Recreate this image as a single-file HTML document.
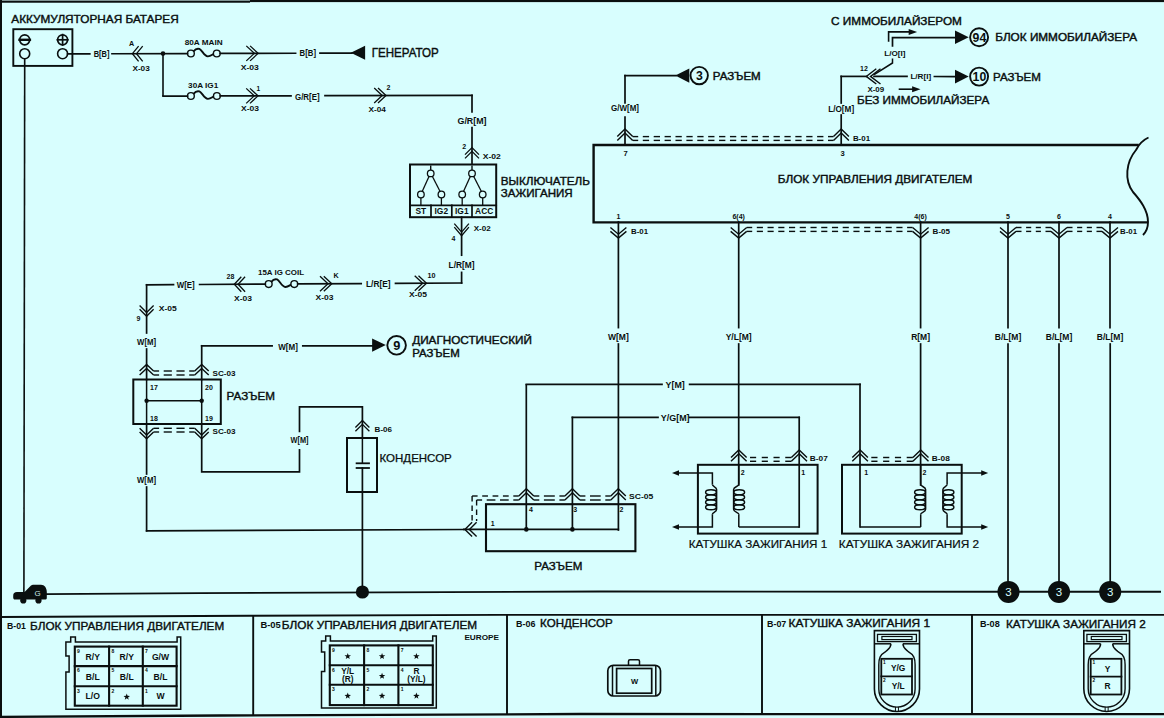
<!DOCTYPE html>
<html><head><meta charset="utf-8"><style>
html,body{margin:0;padding:0;background:#d8fefe;}
svg{display:block;}
text{font-family:"Liberation Sans", sans-serif;}
</style></head><body>
<svg width="1164" height="718" viewBox="0 0 1164 718">
<rect x="0" y="0" width="1164" height="718" fill="#d8fefe"/>
<g stroke="#0a0f0f" stroke-linecap="butt" fill="none">
<rect x="0" y="0" width="1164" height="2.1" fill="#0a0f0f" stroke="none"/>
<rect x="0" y="0" width="250" height="0.9" fill="#8fa5a5" stroke="none"/>
<rect x="0" y="2" width="250" height="0.7" fill="#0a0f0f" stroke="none"/>
<rect x="0" y="0" width="2" height="718" fill="#0a0f0f" stroke="none"/>
<polyline points="0,716.9 220,715.5 580,714 1164,714.2" stroke-width="2.3" fill="none"/>
<polyline points="0,616.9 250,615.75 500,614.85 1164,614.85" stroke-width="1.95" fill="none"/>
<rect x="252.25" y="615" width="1.9" height="100" fill="#0a0f0f" stroke="none"/>
<rect x="506.05" y="615" width="1.9" height="100" fill="#0a0f0f" stroke="none"/>
<rect x="761.05" y="615" width="1.9" height="100" fill="#0a0f0f" stroke="none"/>
<rect x="971.05" y="615" width="1.9" height="100" fill="#0a0f0f" stroke="none"/>
<text x="11.3" y="22.8" font-size="10.9" textLength="167.4" lengthAdjust="spacingAndGlyphs" fill="#0a0f0f" stroke="#0a0f0f" stroke-width="0.4">АККУМУЛЯТОРНАЯ БАТАРЕЯ</text>
<rect x="13.3" y="29.2" width="59.1" height="36.7" stroke-width="1.9" fill="none"/>
<circle cx="24.7" cy="39.8" r="5" stroke-width="1.7" fill="none"/>
<line x1="19.5" y1="39.8" x2="29.9" y2="39.8" stroke-width="2.4" stroke-linecap="square"/>
<circle cx="62.6" cy="39.8" r="5" stroke-width="1.7" fill="none"/>
<line x1="57.4" y1="39.8" x2="67.8" y2="39.8" stroke-width="1.7" stroke-linecap="square"/>
<line x1="62.6" y1="34.6" x2="62.6" y2="45" stroke-width="1.7" stroke-linecap="square"/>
<circle cx="24.7" cy="53.7" r="5" stroke-width="1.6" fill="none"/>
<circle cx="62.6" cy="53.7" r="5" stroke-width="1.6" fill="none"/>
<line x1="24.7" y1="58.7" x2="23.9" y2="592.5" stroke-width="1.6"/>
<line x1="67.6" y1="53.88" x2="89.8" y2="53.82" stroke-width="1.7" stroke-linecap="square"/>
<text x="93.7" y="57.01" font-size="8.5" font-weight="bold" textLength="15.8" lengthAdjust="spacingAndGlyphs" fill="#0a0f0f" stroke="none">B[B]</text>
<line x1="112" y1="53.76" x2="187.5" y2="53.56" stroke-width="1.7" stroke-linecap="square"/>
<polyline points="138.6,46.11 132.4,53.71 138.6,61.31" stroke-width="1.3" fill="none"/>
<polyline points="142.7,46.11 136.5,53.71 142.7,61.31" stroke-width="1.3" fill="none"/>
<text x="129.1" y="46.4" font-size="7.2" font-weight="bold" fill="#0a0f0f" stroke="none">A</text>
<text x="132.4" y="70.6" font-size="7.4" font-weight="bold" textLength="17.4" lengthAdjust="spacingAndGlyphs" fill="#0a0f0f" stroke="none">X-03</text>
<circle cx="163" cy="53.62" r="2.3" fill="#0a0f0f" stroke="none"/>
<circle cx="190.9" cy="53.51" r="3.4" stroke-width="1.4" fill="none"/>
<circle cx="216.8" cy="53.51" r="3.4" stroke-width="1.4" fill="none"/>
<path d="M193.53,51.31 C195.45,48.91 197.78,48.41 199.4,48.91 C202.03,49.91 204.05,56.11 207.69,56.41 C210.12,56.61 212.15,54.71 213.46,54.11" stroke-width="1.9" fill="none"/>
<text x="184.7" y="44.7" font-size="7.2" font-weight="bold" textLength="37.9" lengthAdjust="spacingAndGlyphs" fill="#0a0f0f" stroke="none">80A MAIN</text>
<line x1="220.2" y1="53.47" x2="295.6" y2="53.27" stroke-width="1.7" stroke-linecap="square"/>
<polyline points="250.1,45.87 258.1,53.37 250.1,60.87" stroke-width="1.3" fill="none"/>
<polyline points="246.3,45.87 254.3,53.37 246.3,60.87" stroke-width="1.3" fill="none"/>
<text x="240.7" y="69.8" font-size="7.4" font-weight="bold" textLength="18.2" lengthAdjust="spacingAndGlyphs" fill="#0a0f0f" stroke="none">X-03</text>
<text x="299.6" y="56.25" font-size="8.5" font-weight="bold" textLength="16.4" lengthAdjust="spacingAndGlyphs" fill="#0a0f0f" stroke="none">B[B]</text>
<line x1="320" y1="53.2" x2="352" y2="53.11" stroke-width="1.7" stroke-linecap="square"/>
<polygon points="350.8,52.8 365.1,45.8 365.1,59.8" fill="#0a0f0f" stroke="none"/>
<text x="371.7" y="56.6" font-size="12.4" textLength="67.1" lengthAdjust="spacingAndGlyphs" fill="#0a0f0f" stroke="#0a0f0f" stroke-width="0.4">ГЕНЕРАТОР</text>
<line x1="163" y1="53.62" x2="163" y2="96.1" stroke-width="1.6"/>
<line x1="163" y1="96.1" x2="187.5" y2="96.04" stroke-width="1.7" stroke-linecap="square"/>
<circle cx="190.9" cy="96" r="3.4" stroke-width="1.4" fill="none"/>
<circle cx="216.9" cy="96" r="3.4" stroke-width="1.4" fill="none"/>
<path d="M193.54,93.8 C195.47,91.4 197.81,90.9 199.43,91.4 C202.07,92.4 204.1,98.6 207.76,98.9 C210.2,99.1 212.23,97.2 213.55,96.6" stroke-width="1.9" fill="none"/>
<text x="188.1" y="87.8" font-size="7.2" font-weight="bold" textLength="30.2" lengthAdjust="spacingAndGlyphs" fill="#0a0f0f" stroke="none">30A IG1</text>
<line x1="220.3" y1="95.96" x2="291" y2="95.79" stroke-width="1.7" stroke-linecap="square"/>
<polyline points="250,88.37 258,95.87 250,103.37" stroke-width="1.3" fill="none"/>
<polyline points="246.2,88.37 254.2,95.87 246.2,103.37" stroke-width="1.3" fill="none"/>
<text x="256.6" y="91" font-size="6.5" font-weight="bold" fill="#0a0f0f" stroke="none">1</text>
<text x="241" y="111.4" font-size="7.4" font-weight="bold" textLength="18" lengthAdjust="spacingAndGlyphs" fill="#0a0f0f" stroke="none">X-03</text>
<text x="295" y="99.6" font-size="8.5" font-weight="bold" textLength="24.6" lengthAdjust="spacingAndGlyphs" fill="#0a0f0f" stroke="none">G/R[E]</text>
<line x1="325" y1="95.71" x2="472" y2="95.36" stroke-width="1.7" stroke-linecap="square"/>
<polyline points="378,88.06 386,95.56 378,103.06" stroke-width="1.3" fill="none"/>
<polyline points="374.2,88.06 382.2,95.56 374.2,103.06" stroke-width="1.3" fill="none"/>
<text x="386.5" y="89.6" font-size="7" font-weight="bold" fill="#0a0f0f" stroke="none">2</text>
<text x="368.5" y="112.2" font-size="7.4" font-weight="bold" textLength="17.4" lengthAdjust="spacingAndGlyphs" fill="#0a0f0f" stroke="none">X-04</text>
<line x1="472" y1="95.3" x2="472" y2="112" stroke-width="1.7" stroke-linecap="square"/>
<text x="472" y="124" font-size="8.5" font-weight="bold" text-anchor="middle" textLength="29" lengthAdjust="spacingAndGlyphs" fill="#0a0f0f" stroke="none">G/R[M]</text>
<line x1="472" y1="127.5" x2="472" y2="164" stroke-width="1.7" stroke-linecap="square"/>
<polyline points="465,154.6 472,147.6 479,154.6" stroke-width="1.3" fill="none"/>
<polyline points="465,158.4 472,151.4 479,158.4" stroke-width="1.3" fill="none"/>
<text x="462.3" y="148.8" font-size="7" font-weight="bold" fill="#0a0f0f" stroke="none">2</text>
<text x="482.7" y="159" font-size="7.4" font-weight="bold" textLength="18.1" lengthAdjust="spacingAndGlyphs" fill="#0a0f0f" stroke="none">X-02</text>
<rect x="410" y="164.5" width="86.2" height="52.7" stroke-width="2" fill="none"/>
<line x1="410" y1="205.3" x2="496.2" y2="205.3" stroke-width="1.7" stroke-linecap="square"/>
<line x1="431" y1="205.3" x2="431" y2="217" stroke-width="1.7" stroke-linecap="square"/>
<line x1="451.8" y1="205.3" x2="451.8" y2="217" stroke-width="1.7" stroke-linecap="square"/>
<line x1="472" y1="205.3" x2="472" y2="217" stroke-width="1.7" stroke-linecap="square"/>
<text x="420.8" y="213.6" font-size="8.4" font-weight="bold" text-anchor="middle" fill="#0a0f0f" stroke="none">ST</text>
<text x="441.3" y="213.6" font-size="8.4" font-weight="bold" text-anchor="middle" fill="#0a0f0f" stroke="none">IG2</text>
<text x="461.8" y="213.6" font-size="8.4" font-weight="bold" text-anchor="middle" fill="#0a0f0f" stroke="none">IG1</text>
<text x="484.2" y="213.6" font-size="8.4" font-weight="bold" text-anchor="middle" fill="#0a0f0f" stroke="none">ACC</text>
<line x1="430.7" y1="165.5" x2="430.7" y2="170" stroke-width="1.4"/>
<circle cx="430.7" cy="173.4" r="3.3" stroke-width="1.3" fill="none"/>
<circle cx="420.9" cy="194.5" r="3.3" stroke-width="1.3" fill="none"/>
<line x1="420.9" y1="197.8" x2="420.9" y2="205" stroke-width="1.3"/>
<circle cx="441.4" cy="194.5" r="3.3" stroke-width="1.3" fill="none"/>
<line x1="441.4" y1="197.8" x2="441.4" y2="205" stroke-width="1.3"/>
<line x1="429.1" y1="176.3" x2="422.2" y2="191.5" stroke-width="1.3"/>
<line x1="432.3" y1="176.3" x2="440.1" y2="191.5" stroke-width="1.3"/>
<line x1="472" y1="165.5" x2="472" y2="170" stroke-width="1.4"/>
<circle cx="472" cy="173.4" r="3.3" stroke-width="1.3" fill="none"/>
<circle cx="462.2" cy="194.5" r="3.3" stroke-width="1.3" fill="none"/>
<line x1="462.2" y1="197.8" x2="462.2" y2="205" stroke-width="1.3"/>
<circle cx="482.7" cy="194.5" r="3.3" stroke-width="1.3" fill="none"/>
<line x1="482.7" y1="197.8" x2="482.7" y2="205" stroke-width="1.3"/>
<line x1="470.4" y1="176.3" x2="463.5" y2="191.5" stroke-width="1.3"/>
<line x1="473.6" y1="176.3" x2="481.4" y2="191.5" stroke-width="1.3"/>
<text x="500.8" y="185" font-size="11" textLength="89.2" lengthAdjust="spacingAndGlyphs" fill="#0a0f0f" stroke="#0a0f0f" stroke-width="0.4">ВЫКЛЮЧАТЕЛЬ</text>
<text x="500.8" y="196.6" font-size="10.8" textLength="71.9" lengthAdjust="spacingAndGlyphs" fill="#0a0f0f" stroke="#0a0f0f" stroke-width="0.4">ЗАЖИГАНИЯ</text>
<line x1="461.6" y1="217" x2="461.6" y2="255.2" stroke-width="1.7" stroke-linecap="square"/>
<polyline points="454.3,227.2 461.6,235.7 468.9,227.2" stroke-width="1.3" fill="none"/>
<polyline points="454.3,223.6 461.6,232.1 468.9,223.6" stroke-width="1.3" fill="none"/>
<text x="473.7" y="231" font-size="7.4" font-weight="bold" textLength="17" lengthAdjust="spacingAndGlyphs" fill="#0a0f0f" stroke="none">X-02</text>
<text x="451.5" y="240.5" font-size="7" font-weight="bold" fill="#0a0f0f" stroke="none">4</text>
<text x="461.6" y="267.5" font-size="8.5" font-weight="bold" text-anchor="middle" textLength="26" lengthAdjust="spacingAndGlyphs" fill="#0a0f0f" stroke="none">L/R[M]</text>
<line x1="461.6" y1="272.4" x2="461.6" y2="283" stroke-width="1.7" stroke-linecap="square"/>
<line x1="461.6" y1="283.01" x2="395.5" y2="283.39" stroke-width="1.7" stroke-linecap="square"/>
<polyline points="418.5,275.71 426.5,283.21 418.5,290.71" stroke-width="1.3" fill="none"/>
<polyline points="414.7,275.71 422.7,283.21 414.7,290.71" stroke-width="1.3" fill="none"/>
<text x="427.5" y="277.71" font-size="7.2" font-weight="bold" fill="#0a0f0f" stroke="none">10</text>
<text x="409" y="296.81" font-size="7.4" font-weight="bold" textLength="18" lengthAdjust="spacingAndGlyphs" fill="#0a0f0f" stroke="none">X-05</text>
<text x="366" y="287.15" font-size="8.5" font-weight="bold" textLength="24.6" lengthAdjust="spacingAndGlyphs" fill="#0a0f0f" stroke="none">L/R[E]</text>
<line x1="361.2" y1="283.58" x2="297.7" y2="283.94" stroke-width="1.7" stroke-linecap="square"/>
<polyline points="323.8,276.25 331.8,283.75 323.8,291.25" stroke-width="1.3" fill="none"/>
<polyline points="320,276.25 328,283.75 320,291.25" stroke-width="1.3" fill="none"/>
<text x="333.5" y="278.24" font-size="7.2" font-weight="bold" fill="#0a0f0f" stroke="none">K</text>
<text x="315.5" y="300.34" font-size="7.4" font-weight="bold" textLength="18" lengthAdjust="spacingAndGlyphs" fill="#0a0f0f" stroke="none">X-03</text>
<circle cx="268.7" cy="284.04" r="3.4" stroke-width="1.4" fill="none"/>
<circle cx="294.3" cy="284.04" r="3.4" stroke-width="1.4" fill="none"/>
<path d="M271.3,281.84 C273.2,279.44 275.5,278.94 277.1,279.44 C279.7,280.44 281.7,286.64 285.3,286.94 C287.7,287.14 289.7,285.24 291,284.64" stroke-width="1.9" fill="none"/>
<text x="258" y="274.67" font-size="7.2" font-weight="bold" textLength="46" lengthAdjust="spacingAndGlyphs" fill="#0a0f0f" stroke="none">15A IG COIL</text>
<line x1="265.3" y1="284.13" x2="199.6" y2="284.5" stroke-width="1.7" stroke-linecap="square"/>
<polyline points="241.3,276.8 234.3,284.3 241.3,291.8" stroke-width="1.3" fill="none"/>
<polyline points="245.1,276.8 238.1,284.3 245.1,291.8" stroke-width="1.3" fill="none"/>
<text x="226.6" y="279.05" font-size="7" font-weight="bold" fill="#0a0f0f" stroke="none">28</text>
<text x="234" y="301.31" font-size="7.4" font-weight="bold" textLength="18" lengthAdjust="spacingAndGlyphs" fill="#0a0f0f" stroke="none">X-03</text>
<text x="176.7" y="288.23" font-size="8.5" font-weight="bold" textLength="18" lengthAdjust="spacingAndGlyphs" fill="#0a0f0f" stroke="none">W[E]</text>
<line x1="173.5" y1="284.65" x2="146.6" y2="284.8" stroke-width="1.7" stroke-linecap="square"/>
<line x1="146.6" y1="284.8" x2="146.6" y2="333" stroke-width="1.7" stroke-linecap="square"/>
<polyline points="139.6,309.3 146.6,316.3 153.6,309.3" stroke-width="1.3" fill="none"/>
<polyline points="139.6,305.5 146.6,312.5 153.6,305.5" stroke-width="1.3" fill="none"/>
<text x="158.8" y="310.7" font-size="7.4" font-weight="bold" textLength="18" lengthAdjust="spacingAndGlyphs" fill="#0a0f0f" stroke="none">X-05</text>
<text x="136.5" y="320.5" font-size="7" font-weight="bold" fill="#0a0f0f" stroke="none">9</text>
<text x="146.6" y="344.5" font-size="8.5" font-weight="bold" text-anchor="middle" textLength="19" lengthAdjust="spacingAndGlyphs" fill="#0a0f0f" stroke="none">W[M]</text>
<line x1="146.6" y1="349" x2="146.6" y2="366" stroke-width="1.7" stroke-linecap="square"/>
<polyline points="139.6,371 146.6,364.5 153.6,371" stroke-width="1.4" fill="none"/>
<polyline points="139.6,375 146.6,368.5 153.6,375" stroke-width="1.4" fill="none"/>
<polyline points="194.7,371 201.7,364.5 208.7,371" stroke-width="1.4" fill="none"/>
<polyline points="194.7,375 201.7,368.5 208.7,375" stroke-width="1.4" fill="none"/>
<line x1="153.6" y1="371" x2="159.1" y2="371" stroke-width="1.4"/>
<line x1="189.2" y1="371" x2="194.7" y2="371" stroke-width="1.4"/>
<line x1="163.7" y1="371" x2="171.85" y2="371" stroke-width="1.4"/>
<line x1="176.45" y1="371" x2="184.6" y2="371" stroke-width="1.4"/>
<line x1="153.6" y1="375" x2="159.1" y2="375" stroke-width="1.4"/>
<line x1="189.2" y1="375" x2="194.7" y2="375" stroke-width="1.4"/>
<line x1="163.7" y1="375" x2="171.85" y2="375" stroke-width="1.4"/>
<line x1="176.45" y1="375" x2="184.6" y2="375" stroke-width="1.4"/>
<rect x="133.3" y="379.5" width="87.5" height="44.5" stroke-width="2" fill="none"/>
<line x1="146.6" y1="366" x2="146.6" y2="379.5" stroke-width="1.7" stroke-linecap="square"/>
<text x="150" y="389.5" font-size="7" font-weight="bold" fill="#0a0f0f" stroke="none">17</text>
<text x="205" y="389.5" font-size="7" font-weight="bold" fill="#0a0f0f" stroke="none">20</text>
<text x="150" y="420.5" font-size="7" font-weight="bold" fill="#0a0f0f" stroke="none">18</text>
<text x="205" y="420.5" font-size="7" font-weight="bold" fill="#0a0f0f" stroke="none">19</text>
<line x1="146.6" y1="379.5" x2="146.6" y2="424" stroke-width="1.5"/>
<line x1="201.7" y1="379.5" x2="201.7" y2="424" stroke-width="1.5"/>
<line x1="146.6" y1="400.7" x2="201.7" y2="400.7" stroke-width="1.5"/>
<circle cx="146.6" cy="400.7" r="2.2" fill="#0a0f0f" stroke="none"/>
<circle cx="201.7" cy="400.7" r="2.2" fill="#0a0f0f" stroke="none"/>
<text x="212.6" y="376" font-size="8" font-weight="bold" textLength="23" lengthAdjust="spacingAndGlyphs" fill="#0a0f0f" stroke="none">SC-03</text>
<text x="226.6" y="400.3" font-size="11.2" textLength="48.4" lengthAdjust="spacingAndGlyphs" fill="#0a0f0f" stroke="#0a0f0f" stroke-width="0.4">РАЗЪЕМ</text>
<polyline points="139.6,428.3 146.6,435.1 153.6,428.3" stroke-width="1.4" fill="none"/>
<polyline points="139.6,432 146.6,438.8 153.6,432" stroke-width="1.4" fill="none"/>
<polyline points="194.7,428.3 201.7,435.1 208.7,428.3" stroke-width="1.4" fill="none"/>
<polyline points="194.7,432 201.7,438.8 208.7,432" stroke-width="1.4" fill="none"/>
<line x1="153.6" y1="428.3" x2="159.1" y2="428.3" stroke-width="1.4"/>
<line x1="189.2" y1="428.3" x2="194.7" y2="428.3" stroke-width="1.4"/>
<line x1="163.7" y1="428.3" x2="171.85" y2="428.3" stroke-width="1.4"/>
<line x1="176.45" y1="428.3" x2="184.6" y2="428.3" stroke-width="1.4"/>
<line x1="153.6" y1="432" x2="159.1" y2="432" stroke-width="1.4"/>
<line x1="189.2" y1="432" x2="194.7" y2="432" stroke-width="1.4"/>
<line x1="163.7" y1="432" x2="171.85" y2="432" stroke-width="1.4"/>
<line x1="176.45" y1="432" x2="184.6" y2="432" stroke-width="1.4"/>
<text x="212.6" y="433.5" font-size="8" font-weight="bold" textLength="23" lengthAdjust="spacingAndGlyphs" fill="#0a0f0f" stroke="none">SC-03</text>
<line x1="146.6" y1="424" x2="146.6" y2="474" stroke-width="1.7" stroke-linecap="square"/>
<text x="146.5" y="483" font-size="8.5" font-weight="bold" text-anchor="middle" textLength="19" lengthAdjust="spacingAndGlyphs" fill="#0a0f0f" stroke="none">W[M]</text>
<line x1="146.6" y1="487" x2="146.6" y2="530.8" stroke-width="1.7" stroke-linecap="square"/>
<line x1="146.6" y1="530.8" x2="463.8" y2="529.5" stroke-width="1.7" stroke-linecap="square"/>
<polyline points="201.7,424 201.7,471.9 299.5,471.9 299.5,449" stroke-width="1.7" fill="none"/>
<text x="299.5" y="443.4" font-size="8.5" font-weight="bold" text-anchor="middle" textLength="18" lengthAdjust="spacingAndGlyphs" fill="#0a0f0f" stroke="none">W[M]</text>
<polyline points="299.5,432.3 299.5,406.8 362.4,406.8 362.4,438" stroke-width="1.7" fill="none"/>
<line x1="201.7" y1="345.8" x2="201.7" y2="379.5" stroke-width="1.7" stroke-linecap="square"/>
<line x1="201.7" y1="345.8" x2="272.1" y2="345.8" stroke-width="1.7" stroke-linecap="square"/>
<text x="278.3" y="349.6" font-size="8.5" font-weight="bold" textLength="19.6" lengthAdjust="spacingAndGlyphs" fill="#0a0f0f" stroke="none">W[M]</text>
<line x1="302.8" y1="345.8" x2="375" y2="345.8" stroke-width="1.7" stroke-linecap="square"/>
<polygon points="385.8,345.1 372.1,338.4 372.1,351.8" fill="#0a0f0f" stroke="none"/>
<circle cx="396.6" cy="345.3" r="9.3" stroke-width="1.9" fill="none"/>
<text x="396.9" y="350" font-size="12.8" font-weight="bold" text-anchor="middle" fill="#0a0f0f" stroke="none">9</text>
<text x="412.2" y="344.2" font-size="10.4" textLength="119.7" lengthAdjust="spacingAndGlyphs" fill="#0a0f0f" stroke="#0a0f0f" stroke-width="0.4">ДИАГНОСТИЧЕСКИЙ</text>
<text x="412.2" y="357.3" font-size="10.4" textLength="47.5" lengthAdjust="spacingAndGlyphs" fill="#0a0f0f" stroke="#0a0f0f" stroke-width="0.4">РАЗЪЕМ</text>
<polyline points="355.4,427.5 362.4,420.5 369.4,427.5" stroke-width="1.3" fill="none"/>
<polyline points="355.4,431.3 362.4,424.3 369.4,431.3" stroke-width="1.3" fill="none"/>
<text x="374.6" y="431.5" font-size="7.4" font-weight="bold" textLength="17.4" lengthAdjust="spacingAndGlyphs" fill="#0a0f0f" stroke="none">B-06</text>
<rect x="347" y="438" width="30" height="54" stroke-width="2" fill="none"/>
<line x1="362.4" y1="438" x2="362.4" y2="463.3" stroke-width="1.5"/>
<line x1="356.6" y1="463.3" x2="369" y2="463.3" stroke-width="1.8" stroke-linecap="square"/>
<line x1="356.6" y1="468" x2="369" y2="468" stroke-width="1.8" stroke-linecap="square"/>
<line x1="362.4" y1="468" x2="362.4" y2="592" stroke-width="1.7" stroke-linecap="square"/>
<text x="379.5" y="461.5" font-size="10.6" textLength="72.3" lengthAdjust="spacingAndGlyphs" fill="#0a0f0f" stroke="#0a0f0f" stroke-width="0.25">КОНДЕНСОР</text>
<circle cx="362.4" cy="592" r="6.6" fill="#0a0f0f" stroke="none"/>
<polyline points="46,594.1 200,593.1 600,591.5 1161,591.8" stroke-width="1.9" fill="none"/>
<path d="M13.2,596 C13.2,593 14.5,592 17,592 L24.6,592 L31,585.6 C31.8,584.9 32.5,584.8 33.5,584.8 L41,584.8 C44.5,584.8 46.8,588 46.8,592 L46.8,598 C46.8,599 46,599.6 45,599.6 L15,599.6 C13.8,599.6 13.2,598.8 13.2,597.5 Z" fill="#0a0f0f" stroke="none"/>
<circle cx="23.3" cy="600.4" r="3.1" fill="#0a0f0f" stroke="none"/>
<circle cx="38.5" cy="600.4" r="3.1" fill="#0a0f0f" stroke="none"/>
<text x="37.6" y="595.6" font-size="8" font-weight="normal" text-anchor="middle" fill="#c8e8e8" stroke="none">G</text>
<circle cx="1008.5" cy="591.9" r="11" fill="#0a0f0f" stroke="none"/>
<text x="1008.5" y="596.2" font-size="11.5" font-weight="normal" text-anchor="middle" fill="#d8fefe" stroke="none">3</text>
<circle cx="1059" cy="591.9" r="11" fill="#0a0f0f" stroke="none"/>
<text x="1059" y="596.2" font-size="11.5" font-weight="normal" text-anchor="middle" fill="#d8fefe" stroke="none">3</text>
<circle cx="1110.2" cy="591.9" r="11" fill="#0a0f0f" stroke="none"/>
<text x="1110.2" y="596.2" font-size="11.5" font-weight="normal" text-anchor="middle" fill="#d8fefe" stroke="none">3</text>
<path d="M1138.8,145 L593.6,145 L593.6,222.4 L1147,222.4" stroke-width="2.4" fill="none"/>
<path d="M1148.5,137.5 C1143,140 1139,144 1136,150 C1126,162 1124,180 1133,192 C1140,200 1148,210 1148,222 C1148,228 1146,232 1143,235" stroke-width="1.9" fill="none"/>
<text x="777.8" y="183" font-size="10.6" textLength="194.6" lengthAdjust="spacingAndGlyphs" fill="#0a0f0f" stroke="#0a0f0f" stroke-width="0.4">БЛОК УПРАВЛЕНИЯ ДВИГАТЕЛЕМ</text>
<line x1="625" y1="75.6" x2="625" y2="103" stroke-width="1.7" stroke-linecap="square"/>
<line x1="625" y1="117" x2="625" y2="145" stroke-width="1.7" stroke-linecap="square"/>
<text x="625" y="110.5" font-size="8.5" font-weight="bold" text-anchor="middle" textLength="28" lengthAdjust="spacingAndGlyphs" fill="#0a0f0f" stroke="none">G/W[M]</text>
<line x1="625" y1="75.6" x2="676" y2="75.6" stroke-width="1.7" stroke-linecap="square"/>
<polygon points="675.3,75.6 689.3,68.5 689.3,82.7" fill="#0a0f0f" stroke="none"/>
<circle cx="699.2" cy="75.6" r="8.7" stroke-width="1.9" fill="none"/>
<text x="699.5" y="80.3" font-size="12.3" font-weight="bold" text-anchor="middle" fill="#0a0f0f" stroke="none">3</text>
<text x="712.8" y="80.1" font-size="10.2" textLength="47.9" lengthAdjust="spacingAndGlyphs" fill="#0a0f0f" stroke="#0a0f0f" stroke-width="0.4">РАЗЪЕМ</text>
<text x="625.5" y="155.5" font-size="7.6" font-weight="bold" text-anchor="middle" fill="#0a0f0f" stroke="none">7</text>
<text x="842.7" y="155.9" font-size="7.6" font-weight="bold" text-anchor="middle" fill="#0a0f0f" stroke="none">3</text>
<polyline points="617.3,136.6 625,129.1 632.7,136.6" stroke-width="1.4" fill="none"/>
<polyline points="617.3,140.4 625,132.9 632.7,140.4" stroke-width="1.4" fill="none"/>
<polyline points="833.5,136.6 841.2,129.1 848.9,136.6" stroke-width="1.4" fill="none"/>
<polyline points="833.5,140.4 841.2,132.9 848.9,140.4" stroke-width="1.4" fill="none"/>
<line x1="632.7" y1="136.6" x2="638.2" y2="136.6" stroke-width="1.4"/>
<line x1="828" y1="136.6" x2="833.5" y2="136.6" stroke-width="1.4"/>
<line x1="642.8" y1="136.6" x2="649.09" y2="136.6" stroke-width="1.4"/>
<line x1="653.69" y1="136.6" x2="659.99" y2="136.6" stroke-width="1.4"/>
<line x1="664.59" y1="136.6" x2="670.88" y2="136.6" stroke-width="1.4"/>
<line x1="675.48" y1="136.6" x2="681.78" y2="136.6" stroke-width="1.4"/>
<line x1="686.38" y1="136.6" x2="692.67" y2="136.6" stroke-width="1.4"/>
<line x1="697.27" y1="136.6" x2="703.56" y2="136.6" stroke-width="1.4"/>
<line x1="708.16" y1="136.6" x2="714.46" y2="136.6" stroke-width="1.4"/>
<line x1="719.06" y1="136.6" x2="725.35" y2="136.6" stroke-width="1.4"/>
<line x1="729.95" y1="136.6" x2="736.25" y2="136.6" stroke-width="1.4"/>
<line x1="740.85" y1="136.6" x2="747.14" y2="136.6" stroke-width="1.4"/>
<line x1="751.74" y1="136.6" x2="758.04" y2="136.6" stroke-width="1.4"/>
<line x1="762.64" y1="136.6" x2="768.93" y2="136.6" stroke-width="1.4"/>
<line x1="773.53" y1="136.6" x2="779.82" y2="136.6" stroke-width="1.4"/>
<line x1="784.42" y1="136.6" x2="790.72" y2="136.6" stroke-width="1.4"/>
<line x1="795.32" y1="136.6" x2="801.61" y2="136.6" stroke-width="1.4"/>
<line x1="806.21" y1="136.6" x2="812.51" y2="136.6" stroke-width="1.4"/>
<line x1="817.11" y1="136.6" x2="823.4" y2="136.6" stroke-width="1.4"/>
<line x1="632.7" y1="140.4" x2="638.2" y2="140.4" stroke-width="1.4"/>
<line x1="828" y1="140.4" x2="833.5" y2="140.4" stroke-width="1.4"/>
<line x1="642.8" y1="140.4" x2="649.09" y2="140.4" stroke-width="1.4"/>
<line x1="653.69" y1="140.4" x2="659.99" y2="140.4" stroke-width="1.4"/>
<line x1="664.59" y1="140.4" x2="670.88" y2="140.4" stroke-width="1.4"/>
<line x1="675.48" y1="140.4" x2="681.78" y2="140.4" stroke-width="1.4"/>
<line x1="686.38" y1="140.4" x2="692.67" y2="140.4" stroke-width="1.4"/>
<line x1="697.27" y1="140.4" x2="703.56" y2="140.4" stroke-width="1.4"/>
<line x1="708.16" y1="140.4" x2="714.46" y2="140.4" stroke-width="1.4"/>
<line x1="719.06" y1="140.4" x2="725.35" y2="140.4" stroke-width="1.4"/>
<line x1="729.95" y1="140.4" x2="736.25" y2="140.4" stroke-width="1.4"/>
<line x1="740.85" y1="140.4" x2="747.14" y2="140.4" stroke-width="1.4"/>
<line x1="751.74" y1="140.4" x2="758.04" y2="140.4" stroke-width="1.4"/>
<line x1="762.64" y1="140.4" x2="768.93" y2="140.4" stroke-width="1.4"/>
<line x1="773.53" y1="140.4" x2="779.82" y2="140.4" stroke-width="1.4"/>
<line x1="784.42" y1="140.4" x2="790.72" y2="140.4" stroke-width="1.4"/>
<line x1="795.32" y1="140.4" x2="801.61" y2="140.4" stroke-width="1.4"/>
<line x1="806.21" y1="140.4" x2="812.51" y2="140.4" stroke-width="1.4"/>
<line x1="817.11" y1="140.4" x2="823.4" y2="140.4" stroke-width="1.4"/>
<text x="852.9" y="140.8" font-size="7.4" font-weight="bold" textLength="17.2" lengthAdjust="spacingAndGlyphs" fill="#0a0f0f" stroke="none">B-01</text>
<line x1="841.2" y1="76.4" x2="841.2" y2="103" stroke-width="1.7" stroke-linecap="square"/>
<line x1="841.2" y1="115" x2="841.2" y2="145" stroke-width="1.7" stroke-linecap="square"/>
<text x="841.2" y="111.5" font-size="8.5" font-weight="bold" text-anchor="middle" textLength="26" lengthAdjust="spacingAndGlyphs" fill="#0a0f0f" stroke="none">L/O[M]</text>
<line x1="841.2" y1="76.4" x2="866.3" y2="76.4" stroke-width="1.7" stroke-linecap="square"/>
<polyline points="876.3,68.8 866.3,76.4 876.3,84" stroke-width="1.4" fill="none"/>
<polyline points="880.5,68.8 870.5,76.4 880.5,84" stroke-width="1.4" fill="none"/>
<text x="860.1" y="71.4" font-size="7" font-weight="bold" fill="#0a0f0f" stroke="none">12</text>
<text x="867.4" y="92" font-size="7.4" font-weight="bold" textLength="16.8" lengthAdjust="spacingAndGlyphs" fill="#0a0f0f" stroke="none">X-09</text>
<polyline points="874.1,74.7 892.5,63 892.5,58.5" stroke-width="1.5" fill="none"/>
<text x="884.2" y="56.3" font-size="8" font-weight="bold" textLength="21.2" lengthAdjust="spacingAndGlyphs" fill="#0a0f0f" stroke="none">L/O[I]</text>
<polyline points="892.5,46.8 892.5,37.6 955,37.6" stroke-width="1.7" fill="none"/>
<polygon points="968.7,37.2 955,30.4 955,44" fill="#0a0f0f" stroke="none"/>
<circle cx="979.1" cy="37.2" r="9" stroke-width="1.9" fill="none"/>
<text x="979.4" y="41.9" font-size="12.3" font-weight="bold" text-anchor="middle" fill="#0a0f0f" stroke="none">94</text>
<text x="995.2" y="40.7" font-size="10.4" textLength="141.9" lengthAdjust="spacingAndGlyphs" fill="#0a0f0f" stroke="#0a0f0f" stroke-width="0.4">БЛОК ИММОБИЛАЙЗЕРА</text>
<polyline points="888.6,41.8 888.6,31.9 910,31.9" stroke-width="1.6" fill="none"/>
<polygon points="917.1,31.9 908.7,28.9 908.7,34.9" fill="#0a0f0f" stroke="none"/>
<text x="831.1" y="25.4" font-size="10.4" textLength="130.8" lengthAdjust="spacingAndGlyphs" fill="#0a0f0f" stroke="#0a0f0f" stroke-width="0.4">С ИММОБИЛАЙЗЕРОМ</text>
<line x1="874" y1="76.4" x2="907" y2="76.4" stroke-width="1.7" stroke-linecap="square"/>
<text x="910.4" y="79.2" font-size="8" font-weight="bold" textLength="20.7" lengthAdjust="spacingAndGlyphs" fill="#0a0f0f" stroke="none">L/R[I]</text>
<line x1="934.4" y1="76.5" x2="955" y2="76.6" stroke-width="1.7" stroke-linecap="square"/>
<polygon points="968.7,76.6 955,69.8 955,83.4" fill="#0a0f0f" stroke="none"/>
<circle cx="979.1" cy="76.6" r="9" stroke-width="1.9" fill="none"/>
<text x="979.4" y="81.3" font-size="12.3" font-weight="bold" text-anchor="middle" fill="#0a0f0f" stroke="none">10</text>
<text x="993" y="81.3" font-size="11" textLength="47.9" lengthAdjust="spacingAndGlyphs" fill="#0a0f0f" stroke="#0a0f0f" stroke-width="0.4">РАЗЪЕМ</text>
<line x1="898.7" y1="89.2" x2="913" y2="89.2" stroke-width="1.6"/>
<polygon points="920.5,89.2 912.1,86.2 912.1,92.2" fill="#0a0f0f" stroke="none"/>
<text x="857" y="104" font-size="10.8" textLength="132.2" lengthAdjust="spacingAndGlyphs" fill="#0a0f0f" stroke="#0a0f0f" stroke-width="0.4">БЕЗ ИММОБИЛАЙЗЕРА</text>
<text x="618.4" y="218.5" font-size="7" font-weight="bold" text-anchor="middle" fill="#0a0f0f" stroke="none">1</text>
<text x="738.7" y="218.5" font-size="7" font-weight="bold" text-anchor="middle" fill="#0a0f0f" stroke="none">6(4)</text>
<text x="920.6" y="218.5" font-size="7" font-weight="bold" text-anchor="middle" fill="#0a0f0f" stroke="none">4(6)</text>
<text x="1008" y="218.5" font-size="7" font-weight="bold" text-anchor="middle" fill="#0a0f0f" stroke="none">5</text>
<text x="1059" y="218.5" font-size="7" font-weight="bold" text-anchor="middle" fill="#0a0f0f" stroke="none">6</text>
<text x="1110" y="218.5" font-size="7" font-weight="bold" text-anchor="middle" fill="#0a0f0f" stroke="none">4</text>
<line x1="618.4" y1="222" x2="618.4" y2="327.6" stroke-width="1.7" stroke-linecap="square"/>
<text x="618.4" y="339.5" font-size="8.5" font-weight="bold" text-anchor="middle" fill="#0a0f0f" stroke="none">W[M]</text>
<line x1="738.7" y1="222" x2="738.7" y2="327.6" stroke-width="1.7" stroke-linecap="square"/>
<text x="738.7" y="339.5" font-size="8.5" font-weight="bold" text-anchor="middle" fill="#0a0f0f" stroke="none">Y/L[M]</text>
<line x1="920.6" y1="222" x2="920.6" y2="327.6" stroke-width="1.7" stroke-linecap="square"/>
<text x="920.6" y="339.5" font-size="8.5" font-weight="bold" text-anchor="middle" fill="#0a0f0f" stroke="none">R[M]</text>
<line x1="1008" y1="222" x2="1008" y2="327.6" stroke-width="1.7" stroke-linecap="square"/>
<text x="1008" y="339.5" font-size="8.5" font-weight="bold" text-anchor="middle" fill="#0a0f0f" stroke="none">B/L[M]</text>
<line x1="1059" y1="222" x2="1059" y2="327.6" stroke-width="1.7" stroke-linecap="square"/>
<text x="1059" y="339.5" font-size="8.5" font-weight="bold" text-anchor="middle" fill="#0a0f0f" stroke="none">B/L[M]</text>
<line x1="1110" y1="222" x2="1110" y2="327.6" stroke-width="1.7" stroke-linecap="square"/>
<text x="1110" y="339.5" font-size="8.5" font-weight="bold" text-anchor="middle" fill="#0a0f0f" stroke="none">B/L[M]</text>
<polyline points="610.4,227.5 618.4,234.2 626.4,227.5" stroke-width="1.4" fill="none"/>
<polyline points="610.4,231.4 618.4,238.1 626.4,231.4" stroke-width="1.4" fill="none"/>
<text x="631" y="233.5" font-size="7.4" font-weight="bold" textLength="17" lengthAdjust="spacingAndGlyphs" fill="#0a0f0f" stroke="none">B-01</text>
<polyline points="730.7,227.5 738.7,234.2 746.7,227.5" stroke-width="1.4" fill="none"/>
<polyline points="730.7,231.4 738.7,238.1 746.7,231.4" stroke-width="1.4" fill="none"/>
<polyline points="912.6,227.5 920.6,234.2 928.6,227.5" stroke-width="1.4" fill="none"/>
<polyline points="912.6,231.4 920.6,238.1 928.6,231.4" stroke-width="1.4" fill="none"/>
<line x1="746.7" y1="227.5" x2="752.2" y2="227.5" stroke-width="1.4"/>
<line x1="907.1" y1="227.5" x2="912.6" y2="227.5" stroke-width="1.4"/>
<line x1="756.8" y1="227.5" x2="762.94" y2="227.5" stroke-width="1.4"/>
<line x1="767.54" y1="227.5" x2="773.67" y2="227.5" stroke-width="1.4"/>
<line x1="778.27" y1="227.5" x2="784.41" y2="227.5" stroke-width="1.4"/>
<line x1="789.01" y1="227.5" x2="795.14" y2="227.5" stroke-width="1.4"/>
<line x1="799.74" y1="227.5" x2="805.88" y2="227.5" stroke-width="1.4"/>
<line x1="810.48" y1="227.5" x2="816.61" y2="227.5" stroke-width="1.4"/>
<line x1="821.21" y1="227.5" x2="827.35" y2="227.5" stroke-width="1.4"/>
<line x1="831.95" y1="227.5" x2="838.09" y2="227.5" stroke-width="1.4"/>
<line x1="842.69" y1="227.5" x2="848.82" y2="227.5" stroke-width="1.4"/>
<line x1="853.42" y1="227.5" x2="859.56" y2="227.5" stroke-width="1.4"/>
<line x1="864.16" y1="227.5" x2="870.29" y2="227.5" stroke-width="1.4"/>
<line x1="874.89" y1="227.5" x2="881.03" y2="227.5" stroke-width="1.4"/>
<line x1="885.63" y1="227.5" x2="891.76" y2="227.5" stroke-width="1.4"/>
<line x1="896.36" y1="227.5" x2="902.5" y2="227.5" stroke-width="1.4"/>
<line x1="746.7" y1="231.4" x2="752.2" y2="231.4" stroke-width="1.4"/>
<line x1="907.1" y1="231.4" x2="912.6" y2="231.4" stroke-width="1.4"/>
<line x1="756.8" y1="231.4" x2="762.94" y2="231.4" stroke-width="1.4"/>
<line x1="767.54" y1="231.4" x2="773.67" y2="231.4" stroke-width="1.4"/>
<line x1="778.27" y1="231.4" x2="784.41" y2="231.4" stroke-width="1.4"/>
<line x1="789.01" y1="231.4" x2="795.14" y2="231.4" stroke-width="1.4"/>
<line x1="799.74" y1="231.4" x2="805.88" y2="231.4" stroke-width="1.4"/>
<line x1="810.48" y1="231.4" x2="816.61" y2="231.4" stroke-width="1.4"/>
<line x1="821.21" y1="231.4" x2="827.35" y2="231.4" stroke-width="1.4"/>
<line x1="831.95" y1="231.4" x2="838.09" y2="231.4" stroke-width="1.4"/>
<line x1="842.69" y1="231.4" x2="848.82" y2="231.4" stroke-width="1.4"/>
<line x1="853.42" y1="231.4" x2="859.56" y2="231.4" stroke-width="1.4"/>
<line x1="864.16" y1="231.4" x2="870.29" y2="231.4" stroke-width="1.4"/>
<line x1="874.89" y1="231.4" x2="881.03" y2="231.4" stroke-width="1.4"/>
<line x1="885.63" y1="231.4" x2="891.76" y2="231.4" stroke-width="1.4"/>
<line x1="896.36" y1="231.4" x2="902.5" y2="231.4" stroke-width="1.4"/>
<polyline points="1000,227.5 1008,234.2 1016,227.5" stroke-width="1.4" fill="none"/>
<polyline points="1000,231.4 1008,238.1 1016,231.4" stroke-width="1.4" fill="none"/>
<polyline points="1051,227.5 1059,234.2 1067,227.5" stroke-width="1.4" fill="none"/>
<polyline points="1051,231.4 1059,238.1 1067,231.4" stroke-width="1.4" fill="none"/>
<polyline points="1102,227.5 1110,234.2 1118,227.5" stroke-width="1.4" fill="none"/>
<polyline points="1102,231.4 1110,238.1 1118,231.4" stroke-width="1.4" fill="none"/>
<line x1="1016" y1="227.5" x2="1021.5" y2="227.5" stroke-width="1.4"/>
<line x1="1045.5" y1="227.5" x2="1051" y2="227.5" stroke-width="1.4"/>
<line x1="1026.1" y1="227.5" x2="1031.2" y2="227.5" stroke-width="1.4"/>
<line x1="1035.8" y1="227.5" x2="1040.9" y2="227.5" stroke-width="1.4"/>
<line x1="1016" y1="231.4" x2="1021.5" y2="231.4" stroke-width="1.4"/>
<line x1="1045.5" y1="231.4" x2="1051" y2="231.4" stroke-width="1.4"/>
<line x1="1026.1" y1="231.4" x2="1031.2" y2="231.4" stroke-width="1.4"/>
<line x1="1035.8" y1="231.4" x2="1040.9" y2="231.4" stroke-width="1.4"/>
<line x1="1067" y1="227.5" x2="1072.5" y2="227.5" stroke-width="1.4"/>
<line x1="1096.5" y1="227.5" x2="1102" y2="227.5" stroke-width="1.4"/>
<line x1="1077.1" y1="227.5" x2="1082.2" y2="227.5" stroke-width="1.4"/>
<line x1="1086.8" y1="227.5" x2="1091.9" y2="227.5" stroke-width="1.4"/>
<line x1="1067" y1="231.4" x2="1072.5" y2="231.4" stroke-width="1.4"/>
<line x1="1096.5" y1="231.4" x2="1102" y2="231.4" stroke-width="1.4"/>
<line x1="1077.1" y1="231.4" x2="1082.2" y2="231.4" stroke-width="1.4"/>
<line x1="1086.8" y1="231.4" x2="1091.9" y2="231.4" stroke-width="1.4"/>
<text x="932.6" y="233.8" font-size="7.4" font-weight="bold" textLength="17.4" lengthAdjust="spacingAndGlyphs" fill="#0a0f0f" stroke="none">B-05</text>
<text x="1120" y="233.8" font-size="7.4" font-weight="bold" textLength="17" lengthAdjust="spacingAndGlyphs" fill="#0a0f0f" stroke="none">B-01</text>
<line x1="1008" y1="344" x2="1008" y2="581" stroke-width="1.7" stroke-linecap="square"/>
<line x1="1059" y1="344" x2="1059" y2="581" stroke-width="1.7" stroke-linecap="square"/>
<line x1="1110.2" y1="344" x2="1110.2" y2="581" stroke-width="1.7" stroke-linecap="square"/>
<line x1="618.4" y1="344" x2="618.4" y2="530" stroke-width="1.7" stroke-linecap="square"/>
<line x1="738.7" y1="344" x2="738.7" y2="485" stroke-width="1.7" stroke-linecap="square"/>
<line x1="920.6" y1="344" x2="920.6" y2="485" stroke-width="1.7" stroke-linecap="square"/>
<rect x="486" y="504.2" width="149.4" height="47" stroke-width="2.1" fill="none"/>
<text x="534.2" y="569.5" font-size="11.2" textLength="48.2" lengthAdjust="spacingAndGlyphs" fill="#0a0f0f" stroke="#0a0f0f" stroke-width="0.4">РАЗЪЕМ</text>
<line x1="463.8" y1="529.4" x2="618.3" y2="529.4" stroke-width="1.7" stroke-linecap="square"/>
<polyline points="472.1,522.2 464.9,529.4 472.1,536.6" stroke-width="1.4" fill="none"/>
<polyline points="476.6,522.2 469.4,529.4 476.6,536.6" stroke-width="1.4" fill="none"/>
<text x="490.8" y="525.8" font-size="7" font-weight="bold" fill="#0a0f0f" stroke="none">1</text>
<text x="529" y="512.3" font-size="7" font-weight="bold" fill="#0a0f0f" stroke="none">4</text>
<text x="573.2" y="512.3" font-size="7" font-weight="bold" fill="#0a0f0f" stroke="none">3</text>
<text x="619.5" y="512.3" font-size="7" font-weight="bold" fill="#0a0f0f" stroke="none">2</text>
<circle cx="526.3" cy="529.4" r="2.3" fill="#0a0f0f" stroke="none"/>
<circle cx="572.4" cy="529.4" r="2.3" fill="#0a0f0f" stroke="none"/>
<line x1="526.3" y1="385" x2="526.3" y2="529.4" stroke-width="1.7" stroke-linecap="square"/>
<line x1="572.4" y1="417.4" x2="572.4" y2="529.4" stroke-width="1.7" stroke-linecap="square"/>
<polyline points="518.8,496 526.3,488.8 533.8,496" stroke-width="1.4" fill="none"/>
<polyline points="518.8,500 526.3,492.8 533.8,500" stroke-width="1.4" fill="none"/>
<polyline points="564.9,496 572.4,488.8 579.9,496" stroke-width="1.4" fill="none"/>
<polyline points="564.9,500 572.4,492.8 579.9,500" stroke-width="1.4" fill="none"/>
<polyline points="610.8,496 618.3,488.8 625.8,496" stroke-width="1.4" fill="none"/>
<polyline points="610.8,500 618.3,492.8 625.8,500" stroke-width="1.4" fill="none"/>
<line x1="533.8" y1="496" x2="539.3" y2="496" stroke-width="1.4"/>
<line x1="559.4" y1="496" x2="564.9" y2="496" stroke-width="1.4"/>
<line x1="543.9" y1="496" x2="554.8" y2="496" stroke-width="1.4"/>
<line x1="533.8" y1="500" x2="539.3" y2="500" stroke-width="1.4"/>
<line x1="559.4" y1="500" x2="564.9" y2="500" stroke-width="1.4"/>
<line x1="543.9" y1="500" x2="554.8" y2="500" stroke-width="1.4"/>
<line x1="579.9" y1="496" x2="585.4" y2="496" stroke-width="1.4"/>
<line x1="605.3" y1="496" x2="610.8" y2="496" stroke-width="1.4"/>
<line x1="590" y1="496" x2="600.7" y2="496" stroke-width="1.4"/>
<line x1="579.9" y1="500" x2="585.4" y2="500" stroke-width="1.4"/>
<line x1="605.3" y1="500" x2="610.8" y2="500" stroke-width="1.4"/>
<line x1="590" y1="500" x2="600.7" y2="500" stroke-width="1.4"/>
<text x="629.1" y="498.7" font-size="7.8" font-weight="bold" textLength="24.3" lengthAdjust="spacingAndGlyphs" fill="#0a0f0f" stroke="none">SC-05</text>
<line x1="472.1" y1="496" x2="477.6" y2="496" stroke-width="1.4"/>
<line x1="513.3" y1="496" x2="518.8" y2="496" stroke-width="1.4"/>
<line x1="482.2" y1="496" x2="487.97" y2="496" stroke-width="1.4"/>
<line x1="492.57" y1="496" x2="498.33" y2="496" stroke-width="1.4"/>
<line x1="502.93" y1="496" x2="508.7" y2="496" stroke-width="1.4"/>
<line x1="476.6" y1="500" x2="482.1" y2="500" stroke-width="1.4"/>
<line x1="513.3" y1="500" x2="518.8" y2="500" stroke-width="1.4"/>
<line x1="486.7" y1="500" x2="495.4" y2="500" stroke-width="1.4"/>
<line x1="500" y1="500" x2="508.7" y2="500" stroke-width="1.4"/>
<line x1="472.1" y1="496" x2="472.1" y2="501.5" stroke-width="1.4"/>
<line x1="472.1" y1="505.5" x2="472.1" y2="511" stroke-width="1.4"/>
<line x1="472.1" y1="515" x2="472.1" y2="520.5" stroke-width="1.4"/>
<line x1="476.6" y1="500" x2="476.6" y2="505.5" stroke-width="1.4"/>
<line x1="476.6" y1="509.5" x2="476.6" y2="515" stroke-width="1.4"/>
<line x1="476.6" y1="519" x2="476.6" y2="521" stroke-width="1.4"/>
<line x1="526.3" y1="384.4" x2="662" y2="384.4" stroke-width="1.7" stroke-linecap="square"/>
<text x="665.6" y="387.8" font-size="8.5" font-weight="bold" textLength="19.2" lengthAdjust="spacingAndGlyphs" fill="#0a0f0f" stroke="none">Y[M]</text>
<line x1="689.6" y1="384.4" x2="860" y2="384.4" stroke-width="1.7" stroke-linecap="square"/>
<line x1="572.4" y1="417.4" x2="658" y2="417.4" stroke-width="1.7" stroke-linecap="square"/>
<text x="660.8" y="420.8" font-size="8.5" font-weight="bold" textLength="28.8" lengthAdjust="spacingAndGlyphs" fill="#0a0f0f" stroke="none">Y/G[M]</text>
<line x1="689.6" y1="417.4" x2="799.2" y2="417.4" stroke-width="1.7" stroke-linecap="square"/>
<line x1="799.2" y1="417.4" x2="799.2" y2="527" stroke-width="1.7" stroke-linecap="square"/>
<line x1="860" y1="384.4" x2="860" y2="527" stroke-width="1.7" stroke-linecap="square"/>
<rect x="697.9" y="464.8" width="119.7" height="68.8" stroke-width="2" fill="none"/>
<polyline points="731,457.5 738.8,449.9 746.6,457.5" stroke-width="1.4" fill="none"/>
<polyline points="731,461.3 738.8,453.7 746.6,461.3" stroke-width="1.4" fill="none"/>
<polyline points="791.4,457.5 799.2,449.9 807,457.5" stroke-width="1.4" fill="none"/>
<polyline points="791.4,461.3 799.2,453.7 807,461.3" stroke-width="1.4" fill="none"/>
<line x1="750" y1="457.5" x2="756.15" y2="457.5" stroke-width="1.45"/>
<line x1="761.75" y1="457.5" x2="767.9" y2="457.5" stroke-width="1.45"/>
<line x1="773.5" y1="457.5" x2="779.65" y2="457.5" stroke-width="1.45"/>
<line x1="785.25" y1="457.5" x2="791.4" y2="457.5" stroke-width="1.45"/>
<line x1="750" y1="461.3" x2="756.15" y2="461.3" stroke-width="1.45"/>
<line x1="761.75" y1="461.3" x2="767.9" y2="461.3" stroke-width="1.45"/>
<line x1="773.5" y1="461.3" x2="779.65" y2="461.3" stroke-width="1.45"/>
<line x1="785.25" y1="461.3" x2="791.4" y2="461.3" stroke-width="1.45"/>
<text x="809.8" y="461.3" font-size="7.4" font-weight="bold" textLength="18" lengthAdjust="spacingAndGlyphs" fill="#0a0f0f" stroke="none">B-07</text>
<text x="740.8" y="474.5" font-size="7" font-weight="bold" fill="#0a0f0f" stroke="none">2</text>
<text x="801.3" y="474.5" font-size="7" font-weight="bold" fill="#0a0f0f" stroke="none">1</text>
<line x1="738.8" y1="464.8" x2="738.8" y2="484.6" stroke-width="1.5"/>
<path d="M738.8,484.6 C738.8,486.6 733.6,486.6 733.6,489.6 L733.6,509.3 C733.6,512.3 738.8,512.3 738.8,514.3" stroke-width="1.5" fill="none"/>
<ellipse cx="739.2" cy="492.3" rx="5.4" ry="2.5" stroke-width="1.45" fill="none"/>
<ellipse cx="739.2" cy="497.3" rx="5.4" ry="2.5" stroke-width="1.45" fill="none"/>
<ellipse cx="739.2" cy="502.3" rx="5.4" ry="2.5" stroke-width="1.45" fill="none"/>
<ellipse cx="739.2" cy="507.3" rx="5.4" ry="2.5" stroke-width="1.45" fill="none"/>
<line x1="738.8" y1="514.3" x2="738.8" y2="527" stroke-width="1.5"/>
<line x1="738.8" y1="527" x2="799.2" y2="527" stroke-width="1.5"/>
<path d="M712.4,484.6 C712.4,486.6 716.6,486.6 716.6,489.6 L716.6,509.3 C716.6,512.3 712.4,512.3 712.4,514.3" stroke-width="1.5" fill="none"/>
<ellipse cx="711" cy="492.3" rx="5.4" ry="2.5" stroke-width="1.45" fill="none"/>
<ellipse cx="711" cy="497.3" rx="5.4" ry="2.5" stroke-width="1.45" fill="none"/>
<ellipse cx="711" cy="502.3" rx="5.4" ry="2.5" stroke-width="1.45" fill="none"/>
<ellipse cx="711" cy="507.3" rx="5.4" ry="2.5" stroke-width="1.45" fill="none"/>
<polyline points="712.4,484.6 712.4,473 678,473" stroke-width="1.5" fill="none"/>
<polyline points="712.4,514.3 712.4,527 678,527" stroke-width="1.5" fill="none"/>
<polygon points="672,473 679,470.3 679,475.7" fill="#0a0f0f" stroke="none"/>
<polygon points="672,527 679,524.3 679,529.7" fill="#0a0f0f" stroke="none"/>
<text x="688.8" y="548.4" font-size="10.5" textLength="138.3" lengthAdjust="spacingAndGlyphs" fill="#0a0f0f" stroke="#0a0f0f" stroke-width="0.2">КАТУШКА ЗАЖИГАНИЯ 1</text>
<rect x="842" y="464.8" width="119.7" height="68.8" stroke-width="2" fill="none"/>
<polyline points="852.3,457.5 860.1,449.9 867.9,457.5" stroke-width="1.4" fill="none"/>
<polyline points="852.3,461.3 860.1,453.7 867.9,461.3" stroke-width="1.4" fill="none"/>
<polyline points="912.9,457.5 920.7,449.9 928.5,457.5" stroke-width="1.4" fill="none"/>
<polyline points="912.9,461.3 920.7,453.7 928.5,461.3" stroke-width="1.4" fill="none"/>
<line x1="871.3" y1="457.5" x2="877.5" y2="457.5" stroke-width="1.45"/>
<line x1="883.1" y1="457.5" x2="889.3" y2="457.5" stroke-width="1.45"/>
<line x1="894.9" y1="457.5" x2="901.1" y2="457.5" stroke-width="1.45"/>
<line x1="906.7" y1="457.5" x2="912.9" y2="457.5" stroke-width="1.45"/>
<line x1="871.3" y1="461.3" x2="877.5" y2="461.3" stroke-width="1.45"/>
<line x1="883.1" y1="461.3" x2="889.3" y2="461.3" stroke-width="1.45"/>
<line x1="894.9" y1="461.3" x2="901.1" y2="461.3" stroke-width="1.45"/>
<line x1="906.7" y1="461.3" x2="912.9" y2="461.3" stroke-width="1.45"/>
<text x="931.8" y="461.3" font-size="7.4" font-weight="bold" textLength="18" lengthAdjust="spacingAndGlyphs" fill="#0a0f0f" stroke="none">B-08</text>
<text x="864.2" y="474.5" font-size="7" font-weight="bold" fill="#0a0f0f" stroke="none">1</text>
<text x="922.5" y="474.5" font-size="7" font-weight="bold" fill="#0a0f0f" stroke="none">2</text>
<line x1="920.7" y1="464.8" x2="920.7" y2="484.6" stroke-width="1.5"/>
<path d="M920.7,484.6 C920.7,486.6 925.6,486.6 925.6,489.6 L925.6,509.3 C925.6,512.3 920.7,512.3 920.7,514.3" stroke-width="1.5" fill="none"/>
<ellipse cx="920" cy="492.3" rx="5.4" ry="2.5" stroke-width="1.45" fill="none"/>
<ellipse cx="920" cy="497.3" rx="5.4" ry="2.5" stroke-width="1.45" fill="none"/>
<ellipse cx="920" cy="502.3" rx="5.4" ry="2.5" stroke-width="1.45" fill="none"/>
<ellipse cx="920" cy="507.3" rx="5.4" ry="2.5" stroke-width="1.45" fill="none"/>
<line x1="920.7" y1="514.3" x2="920.7" y2="527" stroke-width="1.5"/>
<line x1="920.7" y1="527" x2="860.1" y2="527" stroke-width="1.5"/>
<path d="M947.1,484.6 C947.1,486.6 942.9,486.6 942.9,489.6 L942.9,509.3 C942.9,512.3 947.1,512.3 947.1,514.3" stroke-width="1.5" fill="none"/>
<ellipse cx="948.5" cy="492.3" rx="5.4" ry="2.5" stroke-width="1.45" fill="none"/>
<ellipse cx="948.5" cy="497.3" rx="5.4" ry="2.5" stroke-width="1.45" fill="none"/>
<ellipse cx="948.5" cy="502.3" rx="5.4" ry="2.5" stroke-width="1.45" fill="none"/>
<ellipse cx="948.5" cy="507.3" rx="5.4" ry="2.5" stroke-width="1.45" fill="none"/>
<polyline points="947.1,484.6 947.1,473 982.2,473" stroke-width="1.5" fill="none"/>
<polyline points="947.1,514.3 947.1,527 982.2,527" stroke-width="1.5" fill="none"/>
<polygon points="988.2,473 981.2,470.3 981.2,475.7" fill="#0a0f0f" stroke="none"/>
<polygon points="988.2,527 981.2,524.3 981.2,529.7" fill="#0a0f0f" stroke="none"/>
<text x="838.8" y="548.4" font-size="10.5" textLength="140.3" lengthAdjust="spacingAndGlyphs" fill="#0a0f0f" stroke="#0a0f0f" stroke-width="0.2">КАТУШКА ЗАЖИГАНИЯ 2</text>
<text x="7" y="628.8" font-size="9.6" font-weight="bold" textLength="18.9" lengthAdjust="spacingAndGlyphs" fill="#0a0f0f" stroke="none">B-01</text>
<text x="30" y="630.4" font-size="11.8" textLength="194.2" lengthAdjust="spacingAndGlyphs" fill="#0a0f0f" stroke="#0a0f0f" stroke-width="0.4">БЛОК УПРАВЛЕНИЯ ДВИГАТЕЛЕМ</text>
<path d="M65.9,709.3 L180.7,709.3 L180.7,637.1 L177.1,637.1 L177.1,642.1 L75.4,642.1 L75.4,637.1 L70.7,637.1 L70.7,642.1 L65.9,642.1 L65.9,656.1 L69.1,656.1 L69.1,672.1 L65.9,672.1 Z" stroke-width="1.5" fill="none"/>
<rect x="74.8" y="646.6" width="101.8" height="59.1" stroke-width="2.1" fill="none"/>
<line x1="109.1" y1="646.6" x2="109.1" y2="705.7" stroke-width="2.1" stroke-linecap="square"/>
<line x1="142.8" y1="646.6" x2="142.8" y2="705.7" stroke-width="2.1" stroke-linecap="square"/>
<line x1="74.8" y1="666.1" x2="176.6" y2="666.1" stroke-width="2.1" stroke-linecap="square"/>
<line x1="74.8" y1="686.2" x2="176.6" y2="686.2" stroke-width="2.1" stroke-linecap="square"/>
<text x="77.1" y="652.9" font-size="5" font-weight="bold" fill="#0a0f0f" stroke="none">9</text>
<text x="92.75" y="659.75" font-size="8.6" font-weight="bold" text-anchor="middle" fill="#0a0f0f" stroke="none">R/Y</text>
<text x="111.4" y="652.9" font-size="5" font-weight="bold" fill="#0a0f0f" stroke="none">8</text>
<text x="126.75" y="659.75" font-size="8.6" font-weight="bold" text-anchor="middle" fill="#0a0f0f" stroke="none">R/Y</text>
<text x="145.1" y="652.9" font-size="5" font-weight="bold" fill="#0a0f0f" stroke="none">7</text>
<text x="160.5" y="659.75" font-size="8.6" font-weight="bold" text-anchor="middle" fill="#0a0f0f" stroke="none">G/W</text>
<text x="77.1" y="672.4" font-size="5" font-weight="bold" fill="#0a0f0f" stroke="none">6</text>
<text x="92.75" y="679.55" font-size="8.6" font-weight="bold" text-anchor="middle" fill="#0a0f0f" stroke="none">B/L</text>
<text x="111.4" y="672.4" font-size="5" font-weight="bold" fill="#0a0f0f" stroke="none">5</text>
<text x="126.75" y="679.55" font-size="8.6" font-weight="bold" text-anchor="middle" fill="#0a0f0f" stroke="none">B/L</text>
<text x="145.1" y="672.4" font-size="5" font-weight="bold" fill="#0a0f0f" stroke="none">4</text>
<text x="160.5" y="679.55" font-size="8.6" font-weight="bold" text-anchor="middle" fill="#0a0f0f" stroke="none">B/L</text>
<text x="77.1" y="692.5" font-size="5" font-weight="bold" fill="#0a0f0f" stroke="none">3</text>
<text x="92.75" y="699.35" font-size="8.6" font-weight="bold" text-anchor="middle" fill="#0a0f0f" stroke="none">L/O</text>
<text x="111.4" y="692.5" font-size="5" font-weight="bold" fill="#0a0f0f" stroke="none">2</text>
<polygon points="126.75,693.55 127.57,695.82 129.98,695.9 128.08,697.38 128.75,699.7 126.75,698.35 124.75,699.7 125.42,697.38 123.52,695.9 125.93,695.82" fill="#0a0f0f" stroke="none"/>
<text x="145.1" y="692.5" font-size="5" font-weight="bold" fill="#0a0f0f" stroke="none">1</text>
<text x="160.5" y="699.35" font-size="8.6" font-weight="bold" text-anchor="middle" fill="#0a0f0f" stroke="none">W</text>
<text x="260.4" y="627.6" font-size="9.6" font-weight="bold" textLength="20.4" lengthAdjust="spacingAndGlyphs" fill="#0a0f0f" stroke="none">B-05</text>
<text x="281.8" y="629.4" font-size="11.6" textLength="195.4" lengthAdjust="spacingAndGlyphs" fill="#0a0f0f" stroke="#0a0f0f" stroke-width="0.4">БЛОК УПРАВЛЕНИЯ ДВИГАТЕЛЕМ</text>
<text x="464.4" y="640" font-size="7.4" font-weight="bold" textLength="34.6" lengthAdjust="spacingAndGlyphs" fill="#0a0f0f" stroke="none">EUROPE</text>
<path d="M321.5,708.1 L436.3,708.1 L436.3,635.9 L432.7,635.9 L432.7,640.9 L330.4,640.9 L330.4,635.9 L325.7,635.9 L325.7,640.9 L321.5,640.9 L321.5,651.9 L324.7,651.9 L324.7,671.4 L321.5,671.4 Z" stroke-width="1.5" fill="none"/>
<rect x="329.8" y="645.4" width="103" height="59.7" stroke-width="2.1" fill="none"/>
<line x1="364.1" y1="645.4" x2="364.1" y2="705.1" stroke-width="2.1" stroke-linecap="square"/>
<line x1="398.4" y1="645.4" x2="398.4" y2="705.1" stroke-width="2.1" stroke-linecap="square"/>
<line x1="329.8" y1="665.3" x2="432.8" y2="665.3" stroke-width="2.1" stroke-linecap="square"/>
<line x1="329.8" y1="684.8" x2="432.8" y2="684.8" stroke-width="2.1" stroke-linecap="square"/>
<text x="332.1" y="651.7" font-size="5" font-weight="bold" fill="#0a0f0f" stroke="none">9</text>
<polygon points="347.75,652.95 348.57,655.22 350.98,655.3 349.08,656.78 349.75,659.1 347.75,657.75 345.75,659.1 346.42,656.78 344.52,655.3 346.93,655.22" fill="#0a0f0f" stroke="none"/>
<text x="366.4" y="651.7" font-size="5" font-weight="bold" fill="#0a0f0f" stroke="none">8</text>
<polygon points="382.05,652.95 382.87,655.22 385.28,655.3 383.38,656.78 384.05,659.1 382.05,657.75 380.05,659.1 380.72,656.78 378.82,655.3 381.23,655.22" fill="#0a0f0f" stroke="none"/>
<text x="400.7" y="651.7" font-size="5" font-weight="bold" fill="#0a0f0f" stroke="none">7</text>
<polygon points="416.4,652.95 417.22,655.22 419.63,655.3 417.73,656.78 418.4,659.1 416.4,657.75 414.4,659.1 415.07,656.78 413.17,655.3 415.58,655.22" fill="#0a0f0f" stroke="none"/>
<text x="332.1" y="671.6" font-size="5" font-weight="bold" fill="#0a0f0f" stroke="none">6</text>
<text x="347.75" y="674.45" font-size="8.3" font-weight="bold" text-anchor="middle" fill="#0a0f0f" stroke="none">Y/L</text>
<text x="347.75" y="682.45" font-size="8.3" font-weight="bold" text-anchor="middle" fill="#0a0f0f" stroke="none">(R)</text>
<text x="366.4" y="671.6" font-size="5" font-weight="bold" fill="#0a0f0f" stroke="none">5</text>
<polygon points="382.05,672.65 382.87,674.92 385.28,675 383.38,676.48 384.05,678.8 382.05,677.45 380.05,678.8 380.72,676.48 378.82,675 381.23,674.92" fill="#0a0f0f" stroke="none"/>
<text x="400.7" y="671.6" font-size="5" font-weight="bold" fill="#0a0f0f" stroke="none">4</text>
<text x="416.4" y="674.45" font-size="8.3" font-weight="bold" text-anchor="middle" fill="#0a0f0f" stroke="none">R</text>
<text x="416.4" y="682.45" font-size="8.3" font-weight="bold" text-anchor="middle" fill="#0a0f0f" stroke="none">(Y/L)</text>
<text x="332.1" y="691.1" font-size="5" font-weight="bold" fill="#0a0f0f" stroke="none">3</text>
<polygon points="347.75,692.55 348.57,694.82 350.98,694.9 349.08,696.38 349.75,698.7 347.75,697.35 345.75,698.7 346.42,696.38 344.52,694.9 346.93,694.82" fill="#0a0f0f" stroke="none"/>
<text x="366.4" y="691.1" font-size="5" font-weight="bold" fill="#0a0f0f" stroke="none">2</text>
<polygon points="382.05,692.55 382.87,694.82 385.28,694.9 383.38,696.38 384.05,698.7 382.05,697.35 380.05,698.7 380.72,696.38 378.82,694.9 381.23,694.82" fill="#0a0f0f" stroke="none"/>
<text x="400.7" y="691.1" font-size="5" font-weight="bold" fill="#0a0f0f" stroke="none">1</text>
<polygon points="416.4,692.55 417.22,694.82 419.63,694.9 417.73,696.38 418.4,698.7 416.4,697.35 414.4,698.7 415.07,696.38 413.17,694.9 415.58,694.82" fill="#0a0f0f" stroke="none"/>
<text x="516.1" y="626.5" font-size="9.6" font-weight="bold" textLength="19.4" lengthAdjust="spacingAndGlyphs" fill="#0a0f0f" stroke="none">B-06</text>
<text x="540.1" y="627.4" font-size="11.1" textLength="72.5" lengthAdjust="spacingAndGlyphs" fill="#0a0f0f" stroke="#0a0f0f" stroke-width="0.4">КОНДЕНСОР</text>
<rect x="607.8" y="665.3" width="52.7" height="30.7" stroke-width="1.7" fill="none" rx="5.5"/>
<line x1="612.5" y1="665.3" x2="612.5" y2="696" stroke-width="1.5"/>
<line x1="655.8" y1="665.3" x2="655.8" y2="696" stroke-width="1.5"/>
<rect x="616.6" y="668.5" width="35.1" height="24.7" stroke-width="1.7" fill="none"/>
<path d="M628.5,665.3 L628.5,661.2 Q628.5,659.7 630,659.7 L638,659.7 Q639.5,659.7 639.5,661.2 L639.5,665.3" stroke-width="1.5" fill="none"/>
<text x="634.5" y="684.4" font-size="7.6" font-weight="bold" text-anchor="middle" fill="#0a0f0f" stroke="none">W</text>
<text x="767" y="626.9" font-size="9.6" font-weight="bold" textLength="19.3" lengthAdjust="spacingAndGlyphs" fill="#0a0f0f" stroke="none">B-07</text>
<text x="788.5" y="627.4" font-size="11.6" textLength="141.5" lengthAdjust="spacingAndGlyphs" fill="#0a0f0f" stroke="#0a0f0f" stroke-width="0.4">КАТУШКА ЗАЖИГАНИЯ 1</text>
<path d="M874.4,688.95 L874.4,630.6 L919.5,630.6 L919.5,688.95 A22.55,22.55 0 0 1 874.4,688.95" stroke-width="1.6" fill="none"/>
<line x1="874.4" y1="643.8" x2="890.95" y2="643.8" stroke-width="1.5"/>
<line x1="902.95" y1="643.8" x2="919.5" y2="643.8" stroke-width="1.5"/>
<rect x="877.5" y="634.4" width="38.9" height="7.2" stroke-width="1.3" fill="none"/>
<rect x="881.9" y="636.5" width="30.1" height="3.1" stroke-width="1.2" fill="none"/>
<path d="M890.95,643.8 C890.95,647.8 888.95,648.8 885.95,651.3 C879.8,654.8 878.8,658.8 878.8,664.8 L878.8,688.95 A18.15,18.15 0 0 0 915.1,688.95 L915.1,664.8 C915.1,658.8 914.1,654.8 907.95,651.3 C904.95,648.8 902.95,647.8 902.95,643.8" stroke-width="1.4" fill="none"/>
<line x1="895.45" y1="707" x2="895.45" y2="711" stroke-width="1"/>
<line x1="898.45" y1="707" x2="898.45" y2="711" stroke-width="1"/>
<rect x="881.3" y="658.8" width="30.7" height="35.7" stroke-width="1.8" fill="none"/>
<line x1="881.3" y1="676.4" x2="912" y2="676.4" stroke-width="1.8" stroke-linecap="square"/>
<text x="883.1" y="664.3" font-size="4.8" font-weight="bold" fill="#0a0f0f" stroke="none">1</text>
<text x="883.1" y="681.9" font-size="4.8" font-weight="bold" fill="#0a0f0f" stroke="none">2</text>
<text x="898.15" y="671.4" font-size="8.4" font-weight="bold" text-anchor="middle" fill="#0a0f0f" stroke="none">Y/G</text>
<text x="898.15" y="689.25" font-size="8.4" font-weight="bold" text-anchor="middle" fill="#0a0f0f" stroke="none">Y/L</text>
<text x="980" y="626.8" font-size="9.6" font-weight="bold" textLength="19.7" lengthAdjust="spacingAndGlyphs" fill="#0a0f0f" stroke="none">B-08</text>
<text x="1006" y="628.2" font-size="11.6" textLength="139.8" lengthAdjust="spacingAndGlyphs" fill="#0a0f0f" stroke="#0a0f0f" stroke-width="0.4">КАТУШКА ЗАЖИГАНИЯ 2</text>
<path d="M1083.8,688.65 L1083.8,630.6 L1129.5,630.6 L1129.5,688.65 A22.85,22.85 0 0 1 1083.8,688.65" stroke-width="1.6" fill="none"/>
<line x1="1083.8" y1="643.8" x2="1100.65" y2="643.8" stroke-width="1.5"/>
<line x1="1112.65" y1="643.8" x2="1129.5" y2="643.8" stroke-width="1.5"/>
<rect x="1086.9" y="634.4" width="39.5" height="7.2" stroke-width="1.3" fill="none"/>
<rect x="1091.3" y="636.5" width="30.7" height="3.1" stroke-width="1.2" fill="none"/>
<path d="M1100.65,643.8 C1100.65,647.8 1098.65,648.8 1095.65,651.3 C1089.2,654.8 1088.2,658.8 1088.2,664.8 L1088.2,688.65 A18.45,18.45 0 0 0 1125.1,688.65 L1125.1,664.8 C1125.1,658.8 1124.1,654.8 1117.65,651.3 C1114.65,648.8 1112.65,647.8 1112.65,643.8" stroke-width="1.4" fill="none"/>
<line x1="1105.15" y1="707" x2="1105.15" y2="711" stroke-width="1"/>
<line x1="1108.15" y1="707" x2="1108.15" y2="711" stroke-width="1"/>
<rect x="1090.7" y="658.8" width="30.7" height="35.7" stroke-width="1.8" fill="none"/>
<line x1="1090.7" y1="676.6" x2="1121.4" y2="676.6" stroke-width="1.8" stroke-linecap="square"/>
<text x="1092.5" y="664.3" font-size="4.8" font-weight="bold" fill="#0a0f0f" stroke="none">1</text>
<text x="1092.5" y="682.1" font-size="4.8" font-weight="bold" fill="#0a0f0f" stroke="none">2</text>
<text x="1107.55" y="671.5" font-size="8.4" font-weight="bold" text-anchor="middle" fill="#0a0f0f" stroke="none">Y</text>
<text x="1107.55" y="689.35" font-size="8.4" font-weight="bold" text-anchor="middle" fill="#0a0f0f" stroke="none">R</text>
</g>
</svg>
</body></html>
